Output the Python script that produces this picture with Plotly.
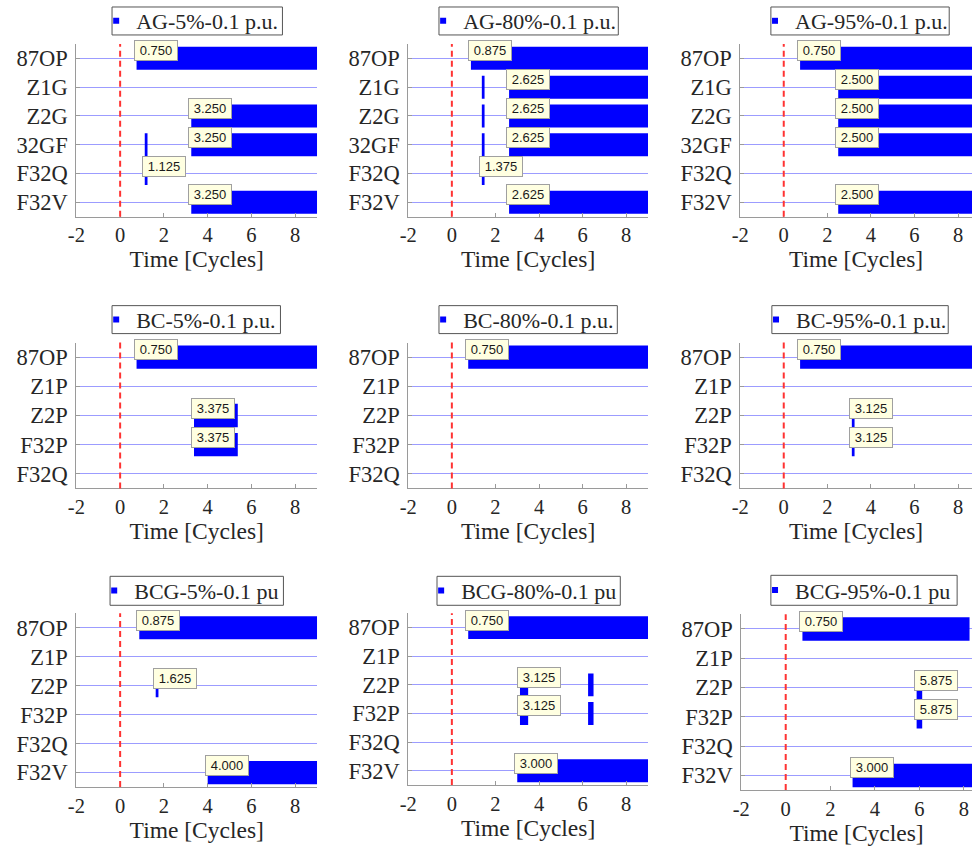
import plotly.graph_objects as go

W, H = 972, 848

# ---------------- data ----------------
titles = ["AG-5%-0.1 p.u.", "AG-80%-0.1 p.u.", "AG-95%-0.1 p.u.",
          "BC-5%-0.1 p.u.", "BC-80%-0.1 p.u.", "BC-95%-0.1 p.u.",
          "BCG-5%-0.1 pu", "BCG-80%-0.1 pu", "BCG-95%-0.1 pu"]

ag_signals = ["87OP", "Z1G", "Z2G", "32GF", "F32Q", "F32V"]
bc_signals = ["87OP", "Z1P", "Z2P", "F32P", "F32Q"]
bcg_signals = ["87OP", "Z1P", "Z2P", "F32P", "F32Q", "F32V"]

x_ticks = [-2, 0, 2, 4, 6, 8]
x_tick_labels = ["-2", "0", "2", "4", "6", "8"]
fault_time = 0.0

# asserted intervals (signal, start cycle, end cycle)
ag5_sig = ["87OP", "Z2G", "32GF", "32GF", "F32Q", "F32V"]
ag5_start = [0.750, 3.250, 1.125, 3.250, 1.125, 3.250]
ag5_end = [9.0, 9.0, 1.250, 9.0, 1.250, 9.0]
ag5_tip_sig = ["87OP", "Z2G", "32GF", "F32Q", "F32V"]
ag5_tip_t = [0.750, 3.250, 3.250, 1.125, 3.250]

ag80_sig = ["87OP", "Z1G", "Z1G", "Z2G", "Z2G", "32GF", "32GF", "F32Q", "F32V"]
ag80_start = [0.875, 1.375, 2.625, 1.375, 2.625, 1.375, 2.625, 1.375, 2.625]
ag80_end = [9.0, 1.500, 9.0, 1.500, 9.0, 1.500, 9.0, 1.500, 9.0]
ag80_tip_sig = ["87OP", "Z1G", "Z2G", "32GF", "F32Q", "F32V"]
ag80_tip_t = [0.875, 2.625, 2.625, 2.625, 1.375, 2.625]

ag95_sig = ["87OP", "Z1G", "Z2G", "32GF", "F32V"]
ag95_start = [0.750, 2.500, 2.500, 2.500, 2.500]
ag95_end = [9.0, 9.0, 9.0, 9.0, 9.0]
ag95_tip_sig = ["87OP", "Z1G", "Z2G", "32GF", "F32V"]
ag95_tip_t = [0.750, 2.500, 2.500, 2.500, 2.500]

bc5_sig = ["87OP", "Z2P", "F32P"]
bc5_start = [0.750, 3.375, 3.375]
bc5_end = [9.0, 5.375, 5.375]
bc5_tip_sig = ["87OP", "Z2P", "F32P"]
bc5_tip_t = [0.750, 3.375, 3.375]

bc80_sig = ["87OP"]
bc80_start = [0.750]
bc80_end = [9.0]
bc80_tip_sig = ["87OP"]
bc80_tip_t = [0.750]

bc95_sig = ["87OP", "Z2P", "F32P"]
bc95_start = [0.750, 3.125, 3.125]
bc95_end = [9.0, 3.250, 3.250]
bc95_tip_sig = ["87OP", "Z2P", "F32P"]
bc95_tip_t = [0.750, 3.125, 3.125]

bcg5_sig = ["87OP", "Z2P", "F32V"]
bcg5_start = [0.875, 1.625, 4.000]
bcg5_end = [9.0, 1.750, 9.0]
bcg5_tip_sig = ["87OP", "Z2P", "F32V"]
bcg5_tip_t = [0.875, 1.625, 4.000]

bcg80_sig = ["87OP", "Z2P", "Z2P", "F32P", "F32P", "F32V"]
bcg80_start = [0.750, 3.125, 6.250, 3.125, 6.250, 3.000]
bcg80_end = [9.0, 3.500, 6.500, 3.500, 6.500, 9.0]
bcg80_tip_sig = ["87OP", "Z2P", "F32P", "F32V"]
bcg80_tip_t = [0.750, 3.125, 3.125, 3.000]

bcg95_sig = ["87OP", "Z2P", "F32P", "F32V"]
bcg95_start = [0.750, 5.875, 5.875, 3.000]
bcg95_end = [8.25, 6.125, 6.125, 9.0]
bcg95_tip_sig = ["87OP", "Z2P", "F32P", "F32V"]
bcg95_tip_t = [0.750, 5.875, 5.875, 3.000]

panel_signals = [ag_signals] * 3 + [bc_signals] * 3 + [bcg_signals] * 3
panel_sig = [ag5_sig, ag80_sig, ag95_sig, bc5_sig, bc80_sig, bc95_sig, bcg5_sig, bcg80_sig, bcg95_sig]
panel_start = [ag5_start, ag80_start, ag95_start, bc5_start, bc80_start, bc95_start,
               bcg5_start, bcg80_start, bcg95_start]
panel_end = [ag5_end, ag80_end, ag95_end, bc5_end, bc80_end, bc95_end, bcg5_end, bcg80_end, bcg95_end]
panel_tip_sig = [ag5_tip_sig, ag80_tip_sig, ag95_tip_sig, bc5_tip_sig, bc80_tip_sig, bc95_tip_sig,
                 bcg5_tip_sig, bcg80_tip_sig, bcg95_tip_sig]
panel_tip_t = [ag5_tip_t, ag80_tip_t, ag95_tip_t, bc5_tip_t, bc80_tip_t, bc95_tip_t,
               bcg5_tip_t, bcg80_tip_t, bcg95_tip_t]

# ---------------- layout geometry (pixels) ----------------
x_px = [(68, 311), (403, 645), (738, 972),
        (68, 311), (403, 645), (738, 972),
        (68, 311), (403, 645), (739, 972)]
x_max = [9, 9, 8.64, 9, 9, 8.64, 9, 9, 8.36]
y_px = [(43, 216), (43, 216), (43, 216),
        (342, 488), (342, 488), (342, 488),
        (613, 787), (613, 785), (614, 790)]
# legend frames: left, right, top, bottom
legend_frame = [(104, 276, 6, 34), (434, 615, 6, 34), (769, 949, 6, 34),
                (104, 274, 305, 333), (434, 614, 305, 333), (770, 948, 305, 333),
                (102, 277, 576, 605), (432, 617, 576, 605), (769, 957, 575, 605)]

SERIF = "Liberation Serif"
SANS = "Liberation Sans"
TXT = "#262626"
AXC = "#9a9a9a"
BLUE = "#0000ff"

fig = go.Figure()
layout = dict(width=W, height=H, margin=dict(l=0, r=0, t=0, b=0),
              paper_bgcolor="white", plot_bgcolor="white", barmode="overlay",
              showlegend=True, annotations=[], shapes=[])

for i in range(9):
    k = i + 1
    sfx = "" if k == 1 else str(k)
    xa, ya = "x" + sfx, "y" + sfx
    leg = "legend" + sfx
    sig = panel_sig[i]
    st = panel_start[i]
    en = panel_end[i]
    fig.add_trace(go.Bar(
        orientation="h", y=sig, x=[e - s for s, e in zip(st, en)], base=st,
        width=0.8, marker=dict(color=BLUE, line=dict(width=0)),
        xaxis=xa, yaxis=ya, showlegend=False, hoverinfo="skip"))
    fig.add_trace(go.Scatter(
        x=[None], y=[None], mode="markers", name=titles[i],
        marker=dict(symbol="square", size=6, color=BLUE),
        xaxis=xa, yaxis=ya, legend=leg, showlegend=True))

    n = len(panel_signals[i])
    x0, x1 = x_px[i]
    y0, y1 = y_px[i]
    layout["xaxis" + sfx] = dict(
        domain=[x0 / W, x1 / W], anchor=ya, range=[-2, x_max[i]],
        tickvals=x_ticks, ticktext=x_tick_labels, ticks="inside", ticklen=4,
        tickcolor=AXC, showline=True, linecolor=AXC, linewidth=1,
        showgrid=False, zeroline=False, ticklabelstandoff=0,
        tickfont=dict(family=SERIF, size=20.5, color=TXT),
        title=dict(text="Time [Cycles]", font=dict(family=SERIF, size=23.5, color=TXT), standoff=3))
    layout["yaxis" + sfx] = dict(
        domain=[1 - y1 / H, 1 - y0 / H], anchor=xa, type="category",
        categoryorder="array", categoryarray=panel_signals[i],
        range=[n - 0.5, -0.5], ticks="inside", ticklen=4, tickcolor=AXC,
        showline=True, linecolor=AXC, linewidth=1, showgrid=True,
        gridcolor="#9c9cff", gridwidth=1, zeroline=False, ticklabelstandoff=3,
        tickfont=dict(family=SERIF, size=22.5, color=TXT))
    fl, fr, ft, fb = legend_frame[i]
    layout[leg] = dict(
        x=(fl - 16) / W, xanchor="left", y=1 - (ft + fb) / 2 / H, yanchor="middle",
        borderwidth=0, bgcolor="rgba(0,0,0,0)", itemwidth=30,
        font=dict(family=SERIF, size=22, color=TXT))
    layout["shapes"].append(dict(
        type="rect", xref="paper", yref="paper", x0=fl / W, x1=fr / W,
        y0=1 - fb / H, y1=1 - ft / H, line=dict(color="#555555", width=1),
        fillcolor="white", layer="below"))
    layout["shapes"].append(dict(
        type="line", xref=xa, yref=ya + " domain", x0=fault_time, x1=fault_time, y0=0, y1=1,
        line=dict(color="#ff3333", width=2, dash="6px,4px")))
    for s, t in zip(panel_tip_sig[i], panel_tip_t[i]):
        layout["annotations"].append(dict(
            xref=xa, yref=ya, x=t, y=s, text=f"{t:.3f}", showarrow=False,
            xanchor="left", yanchor="bottom", xshift=-3, yshift=-3,
            bgcolor="#ffffe1", bordercolor="#a0a0a0", borderwidth=1, borderpad=2,
            width=38, font=dict(family=SANS, size=13, color="#1a1a1a")))

fig.update_layout(**layout)
fig.write_html("out.html")
